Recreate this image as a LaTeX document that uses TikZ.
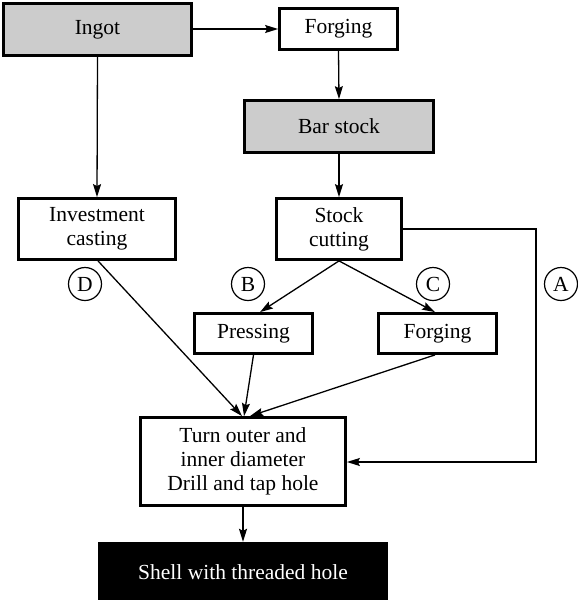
\documentclass[tikz,border=0pt]{standalone}
\usepackage{fontspec}
\setmainfont{Liberation Serif}
\usetikzlibrary{arrows.meta,calc}
\definecolor{boxgray}{HTML}{CCCCCC}
\begin{document}
\begin{tikzpicture}[x=1pt,y=-1pt,
  every node/.style={font=\fontsize{21.5}{24}\selectfont},
  box/.style={draw=black,line width=2.8pt,fill=white,align=center,inner sep=0pt},
  graybox/.style={box,fill=boxgray},
  darkbox/.style={fill=black,text=white,align=center,inner sep=0pt},
  circ/.style={draw=black,circle,line width=1.2pt,minimum size=33pt,inner sep=0pt},
  conn/.style={line width=1.3pt,-{Stealth[length=13pt,width=8pt,inset=2pt]}},
  plainline/.style={line width=1.3pt}]
\useasboundingbox (0,0) rectangle (578,600);
% boxes
\node[graybox,minimum width=188pt,minimum height=52pt] (ingot) at (97.5,29.5) {Ingot};
\node[box,minimum width=118pt,minimum height=41pt] (forge1) at (338.5,29) {Forging};
\node[graybox,minimum width=189pt,minimum height=52pt] (bar) at (339,126.5) {Bar stock};
\node[box,minimum width=157pt,minimum height=61pt] (inv) at (97,229) {Investment\\casting};
\node[box,minimum width=125pt,minimum height=61pt] (stock) at (339,229) {Stock\\cutting};
\node[box,minimum width=118pt,minimum height=40pt] (press) at (253.5,333.5) {Pressing};
\node[box,minimum width=118pt,minimum height=40pt] (forge2) at (437.5,333.5) {Forging};
\node[box,minimum width=205pt,minimum height=88pt] (turn) at (243,461.5) {Turn outer and\\inner diameter\\Drill and tap hole};
\node[darkbox,minimum width=290pt,minimum height=60pt] (shell) at (243,572) {Shell with threaded hole};
% circles
\node[circ] (cD) at (85,284) {D};
\node[circ] (cB) at (248,284) {B};
\node[circ] (cC) at (433,284) {C};
\node[circ] (cA) at (561,284) {A};
% connectors
\draw[conn] (ingot.east |- forge1.west) -- (forge1.west);
\draw[conn] (ingot.south) -- (inv.north);
\draw[conn] (forge1.south) -- (bar.north);
\draw[conn] (bar.south) -- (stock.north);
\draw[conn] (stock.south) -- ($(press.north)+(6.5,0)$);
\draw[conn] (stock.south) -- ($(forge2.north)+(-2.5,0)$);
\draw[conn] ($(inv.south)+(1,0)$) -- ($(turn.north)+(-1,0)$);
\draw[conn] (press.south) -- ($(turn.north)+(1,0)$);
\draw[conn] ($(forge2.south)+(-2.5,0)$) -- ($(turn.north)+(7,0)$);
\coordinate (aTop) at (536,229);
\coordinate (aBot) at (536,462);
\draw[conn] (stock.east |- aTop) -- (aTop) -- (aBot) -- (turn.east |- aBot);
\draw[conn] (turn.south) -- (shell.north);
\end{tikzpicture}
\end{document}
